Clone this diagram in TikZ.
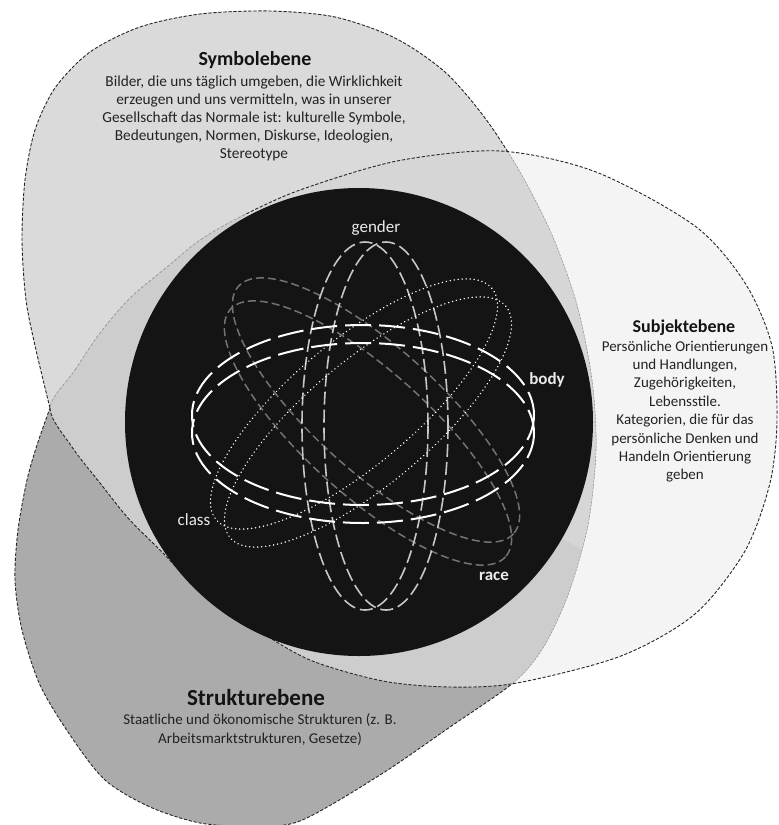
\documentclass[tikz,border=0pt]{standalone}
\usepackage{fontspec}
\setmainfont{Carlito}
\definecolor{subfill}{HTML}{F4F4F4}
\definecolor{strfill}{HTML}{ABABAB}
\definecolor{symfill}{HTML}{DADADA}
\definecolor{midfill}{HTML}{CDCDCD}
\definecolor{midlight}{HTML}{D6D6D6}
\definecolor{core}{HTML}{141414}
\definecolor{txt}{HTML}{222222}
\tikzset{
  edge/.style={draw=black!85, line width=0.9pt, dash pattern=on 3.2pt off 1.8pt},
  faintedge/.style={draw=black!42, line width=0.55pt, dash pattern=on 2pt off 1.5pt},
  bodyring/.style={draw=white, line width=2pt, dash pattern=on 26pt off 8pt},
  genderring/.style={draw=black!22, line width=1.6pt, dash pattern=on 13pt off 5pt},
  racering/.style={draw=black!55, line width=1.5pt, dash pattern=on 8pt off 4pt},
  classring/.style={draw=white, line width=1.6pt, dash pattern=on 0.01pt off 4pt, line cap=round},
  bodytext/.style={font=\fontsize{15}{18}\selectfont, text=txt, inner sep=0pt, anchor=base},
  titletext/.style={font=\bfseries, text=black!92, inner sep=0pt, anchor=base},
  lab/.style={font=\fontsize{17}{20}\selectfont, text=black!8, inner sep=0pt, anchor=base}
}
\begin{document}
\begin{tikzpicture}[x=1pt,y=-1pt]
\useasboundingbox (0,0) rectangle (779,825);
\def\subpath{plot[smooth cycle, tension=0.5] coordinates {(50,408) (75,370) (100,333) (130,298) (167,267) (200,240) (240,217) (300,190) (397,161) (500,151) (596,172) (695,226) (745,283) (772,346) (777,420) (770,483) (745,551) (695,614) (621,656) (517,683) (450,687) (383,681) (310,660) (253,627) (200,590) (160,550) (128,518) (100,483) (72,447)}}
\def\epath{plot[smooth, tension=0.5] coordinates {(50,408) (36,350) (26,300) (22,240) (25,180) (35,130) (55,88) (90,52) (140,27) (200,14) (270,11) (335,17) (395,38) (445,72) (485,118) (520,172) (552,235) (577,305) (592,380) (596,450) (588,525) (568,595) (543,648) (513,683) (450,727) (380,775) (300,821) (250,826) (200,823) (150,807) (105,780) (70,735) (40,685) (22,630) (15,580) (18,530) (27,480) (37,445) (50,408)} -- cycle}
% fills
\fill[subfill] \subpath;
\fill[strfill] \epath;
\begin{scope}
  \clip \epath;
  \fill[symfill] (50,408) -- (-5,408) -- (-5,-5) -- (785,-5) -- (785,683) -- (513,683) -- cycle;
\end{scope}
\begin{scope}
  \clip \subpath;
  \clip \epath;
  \fill[midfill] (0,0) rectangle (779,825);
  \fill[midlight] (240,205) -- (240,-5) -- (785,-5) -- (785,560) -- (600,560) -- (359,422) -- cycle;
\end{scope}
% outlines
\begin{scope}[even odd rule]
  \clip (-10,-10) rectangle (790,840) \subpath;
  \draw[edge] \epath;
\end{scope}
\begin{scope}
  \clip \subpath;
  \draw[faintedge] \epath;
\end{scope}
\begin{scope}
  \clip (245,-10) rectangle (790,840) (-10,408) rectangle (245,840);
  \draw[edge] \subpath;
\end{scope}
\begin{scope}
  \clip (-10,100) rectangle (245,408);
  \draw[faintedge, line width=0.7pt, dash pattern=on 3pt off 1.8pt] \subpath;
\end{scope}
% core
\fill[core] (359,422) circle [radius=234];
% rings
\draw[racering, shift={(376,410)}, rotate=-42] (0,0) ellipse [x radius=185, y radius=62];
\draw[racering, shift={(368,433)}, rotate=-42] (0,0) ellipse [x radius=185, y radius=62];
\draw[genderring] (365,426) ellipse [x radius=63, y radius=184];
\draw[genderring] (386,426) ellipse [x radius=62, y radius=184];
\draw[classring, shift={(354,404)}, rotate=40] (0,0) ellipse [x radius=180, y radius=62];
\draw[classring, shift={(368,422)}, rotate=40] (0,0) ellipse [x radius=180, y radius=62];
\draw[bodyring] (363,415) ellipse [x radius=171, y radius=90];
\draw[bodyring] (363,433) ellipse [x radius=171, y radius=90];
% labels
\node[lab] (gender) at (376,232) {gender};
\node[lab, font=\fontsize{17}{20}\selectfont\bfseries] (body) at (547,384) {body};
\node[lab] (class) at (194,525) {class};
\node[lab, font=\fontsize{17}{20}\selectfont\bfseries] (race) at (494,580) {race};
% Symbolebene
\node[titletext, font=\fontsize{20}{24}\selectfont\bfseries] (symT) at (255,65) {Symbolebene};
\foreach \t [count=\i] in {{Bilder, die uns täglich umgeben, die Wirklichkeit},{erzeugen und uns vermitteln, was in unserer},{Gesellschaft das Normale ist: kulturelle Symbole,},{Bedeutungen, Normen, Diskurse, Ideologien,},{Stereotype}}
  \node[bodytext, font=\fontsize{15.3}{18}\selectfont] (sym\i) at (254,{86.5+18.1*(\i-1)}) {\t};
% Subjektebene
\node[titletext, font=\fontsize{18}{22}\selectfont\bfseries] (subT) at (684,332) {Subjektebene};
\foreach \t [count=\i] in {{Persönliche Orientierungen},{und Handlungen,},{Zugehörigkeiten,},{Lebensstile.},{Kategorien, die für das},{persönliche Denken und},{Handeln Orientierung},{geben}}
  \node[bodytext] (sub\i) at (685,{351+18.4*(\i-1)}) {\t};
% Strukturebene
\node[titletext, font=\fontsize{23}{27}\selectfont\bfseries] (strT) at (256,705) {Strukturebene};
\foreach \t [count=\i] in {{Staatliche und ökonomische Strukturen (z. B.},{Arbeitsmarktstrukturen, Gesetze)}}
  \node[bodytext] (str\i) at (260,{724.5+19*(\i-1)}) {\t};
\end{tikzpicture}
\end{document}
